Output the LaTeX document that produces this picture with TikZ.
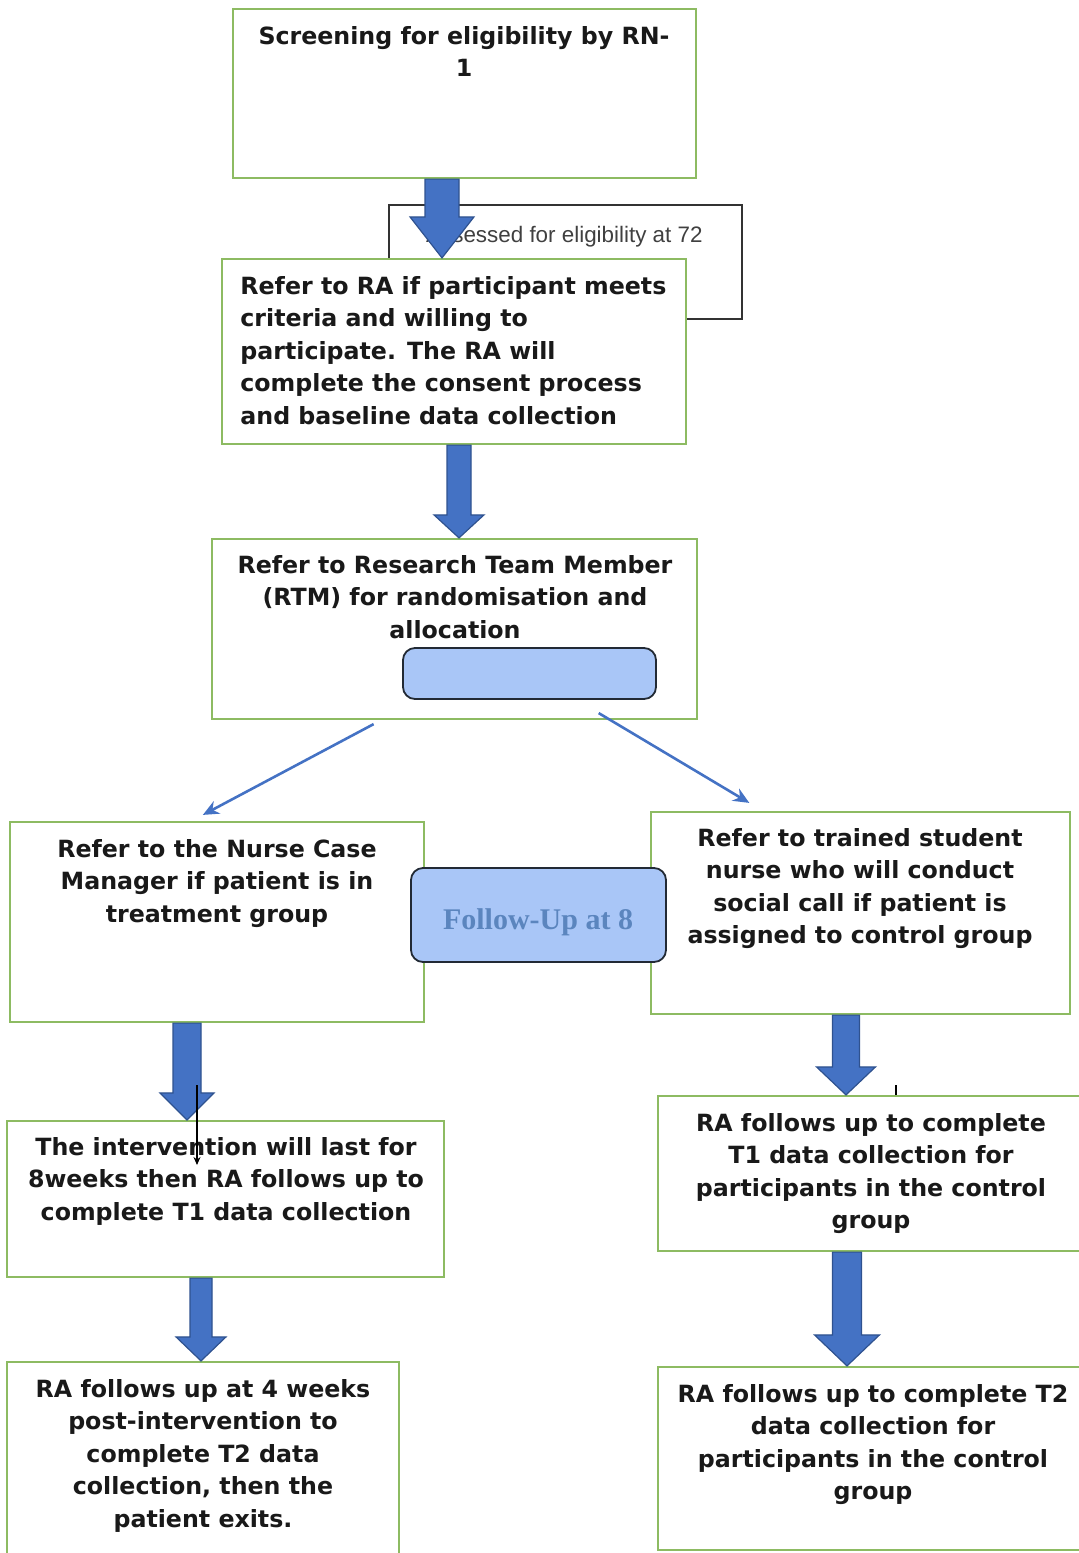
\documentclass[tikz,border=0pt]{standalone}
\usepackage{fontspec}
\setsansfont{DejaVu Sans}
\newfontfamily\thinfont{Liberation Sans}
\newfontfamily\capfont{Liberation Serif}
\usetikzlibrary{arrows.meta,calc,fit}

\definecolor{boxgreen}{HTML}{8DBB62}
\definecolor{arrowblue}{HTML}{4472C4}
\definecolor{arrowedge}{HTML}{2F528F}
\definecolor{panelblue}{HTML}{A9C6F7}
\definecolor{paneledge}{HTML}{222A35}
\definecolor{capblue}{HTML}{5B85BE}

\tikzset{
  flowbox/.style={draw=boxgreen, line width=1.1pt, fill=white, inner sep=0pt},
  flowtext/.style={font=\sffamily\bfseries\fontsize{11.85}{16.25}\selectfont,
    align=center, inner sep=0pt, anchor=north, text=black!90},
  panel/.style={draw=paneledge, line width=0.9pt, fill=panelblue,
    rounded corners=6pt, inner sep=0pt},
  thinarrow/.style={draw=arrowblue, line width=1.3pt, -{Stealth[length=8pt,width=7pt]}},
  blockarrow/.style={fill=arrowblue, draw=arrowedge, line width=0.6pt},
}

% big down arrow: x, from node, to node, shaft half, head half, head length
\newcommand{\downblock}[6]{%
  \filldraw[blockarrow] let \p1=(#2.south -| #1), \p2=(#3.north -| #1) in
    (\x1-#4,\y1) -- (\x1+#4,\y1) -- (\x1+#4,\y2+#6) -- (\x1+#5,\y2+#6)
    -- (\x2,\y2) -- (\x1-#5,\y2+#6) -- (\x1-#4,\y2+#6) -- cycle;}

\begin{document}
\begin{tikzpicture}[x=0.5pt,y=-0.5pt]
    \useasboundingbox (0,0) rectangle (1078,1553);

    % box half hidden behind the second step
    \node[draw=black!80, line width=0.6pt, inner sep=0pt, fit={(389,205) (742,319)}] (hidden) {};
    \node[font=\thinfont\fontsize{11.2}{13}\selectfont, text=black!75, anchor=east, inner sep=0pt]
        (assess) at (703,237) {Assessed for eligibility at 72};

    % top row
    \node[flowbox, fit={(233,9) (696,178)}] (screen) {};
    \node[flowtext] (screen-txt) at (464,26) {Screening for eligibility by RN-\\1};

    \node[flowbox, fit={(222,259) (686,444)}] (elig) {};
    \node[flowtext, align=left, anchor=north west] (elig-txt) at (240,276)
        {Refer to RA if participant meets\\criteria and willing to\\participate. The RA will\\complete the consent process\\and baseline data collection};

    \node[flowbox, fit={(212,539) (697,719)}] (rtm) {};
    \node[flowtext] (rtm-txt) at (455,555)
        {Refer to Research Team Member\\(RTM) for randomisation and\\allocation};
    \node[panel, fit={(403,648) (656,699)}] (alloc) {};

    \coordinate (ax1) at (442,0);
    \coordinate (ax2) at (459,0);
    \downblock{ax1}{screen}{elig}{8.5pt}{16pt}{20.5pt}
    \downblock{ax2}{elig}{rtm}{6pt}{12.5pt}{11.5pt}

    % two groups
    \node[flowbox, fit={(10,822) (424,1022)}] (nurse) {};
    \node[flowtext] (nurse-txt) at (217,839)
        {Refer to the Nurse Case\\Manager if patient is in\\treatment group};

    \node[flowbox, fit={(651,812) (1070,1014)}] (student) {};
    \node[flowtext] (student-txt) at (860,828)
        {Refer to trained student\\nurse who will conduct\\social call if patient is\\assigned to control group};

    \node[panel, fit={(411,868) (666,962)}] (follow) {};
    \node[font=\capfont\bfseries\fontsize{15}{17}\selectfont, text=capblue, inner sep=0pt]
        (follow-txt) at (538,922) {Follow-Up at 8};

    \coordinate (split-l) at ($(rtm.south west)!0.334!(rtm.south east)+(0,4)$);
    \coordinate (split-r) at ($(rtm.south west)!0.796!(rtm.south east)+(0,-7)$);
    \coordinate (nurse-in) at ($(nurse.north west)!0.466!(nurse.north east)+(0,-6)$);
    \coordinate (student-in) at ($(student.north west)!0.236!(student.north east)+(0,-8)$);
    \draw[thinarrow] (split-l) -- (nurse-in);
    \draw[thinarrow] (split-r) -- (student-in);

    % treatment side
    \node[flowbox, fit={(7,1121) (444,1277)}] (interv) {};
    \node[flowtext] (interv-txt) at (226,1137)
        {The intervention will last for\\8weeks then RA follows up to\\complete T1 data collection};

    \node[flowbox, fit={(7,1362) (399,1575)}] (exit) {};
    \node[flowtext] (exit-txt) at (203,1379)
        {RA follows up at 4 weeks\\post-intervention to\\complete T2 data\\collection, then the\\patient exits.};

    \coordinate (ax3) at (187,0);
    \coordinate (ax4) at (201,0);
    \downblock{ax3}{nurse}{interv}{7pt}{13.5pt}{13.5pt}
    \downblock{ax4}{interv}{exit}{5.5pt}{12.5pt}{12pt}

    \coordinate (mark-a) at (197,1085);
    \coordinate (mark-b) at (197,1165);
    \draw[line width=0.6pt, -{Stealth[length=4pt,width=3.5pt]}] (mark-a) -- (mark-b);

    % control side
    \node[flowbox, fit={(658,1096) (1090,1251)}] (ctl-one) {};
    \node[flowtext] (ctl-one-txt) at (871,1113)
        {RA follows up to complete\\T1 data collection for\\participants in the control\\group};

    \node[flowbox, fit={(658,1367) (1090,1550)}] (ctl-two) {};
    \node[flowtext] (ctl-two-txt) at (873,1384)
        {RA follows up to complete T2\\data collection for\\participants in the control\\group};

    \coordinate (ax5) at (846,0);
    \coordinate (ax6) at (847,0);
    \downblock{ax5}{student}{ctl-one}{6.75pt}{14.75pt}{14pt}
    \downblock{ax6}{ctl-one}{ctl-two}{7.25pt}{16.25pt}{15.5pt}

    \coordinate (tick-a) at (896,1085);
    \coordinate (tick-b) at (896,1095);
    \draw[line width=0.6pt] (tick-a) -- (tick-b);
\end{tikzpicture}
\end{document}
